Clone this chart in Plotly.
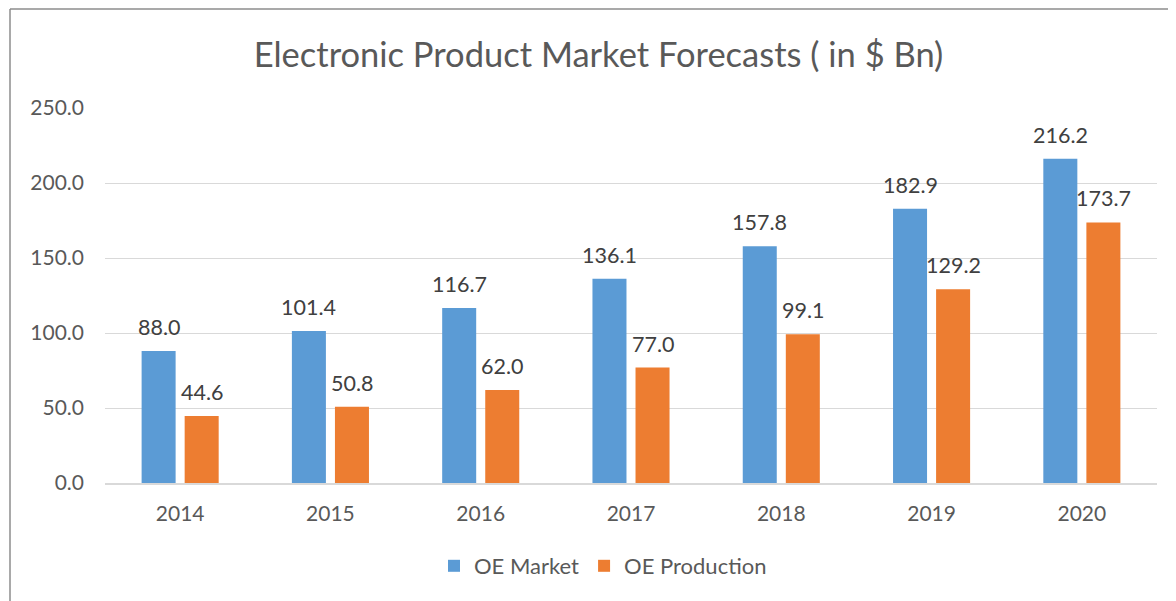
import plotly.graph_objects as go

years = ["2014", "2015", "2016", "2017", "2018", "2019", "2020"]
oe_market = [88.0, 101.4, 116.7, 136.1, 157.8, 182.9, 216.2]
oe_production = [44.6, 50.8, 62.0, 77.0, 99.1, 129.2, 173.7]
y_ticks = [0, 50, 100, 150, 200, 250]

OFF = 8  # page body margin
W, H = 1176 - OFF, 601 - OFF
ml, mr, mt, mb = 105 - OFF, 19, 108 - OFF, 118
pw = W - ml - mr
ph = H - mt - mb
FONT = "Lato"

fig = go.Figure()
fig.add_trace(go.Bar(name="OE Market", x=years, y=oe_market,
                     marker=dict(color="#5B9BD5", line=dict(width=0))))
fig.add_trace(go.Bar(name="OE Production", x=years, y=oe_production,
                     marker=dict(color="#ED7D31", line=dict(width=0))))

slot = pw / len(years) * (1 - 0.427) / 2
annotations = []
for vals, sh in ((oe_market, -slot / 2), (oe_production, slot / 2)):
    for i, v in enumerate(vals):
        annotations.append(dict(x=i, y=v, xref="x", yref="y", text=f"{v:.1f}",
                                showarrow=False, xshift=sh, yshift=24, yanchor="middle",
                                font=dict(family=FONT, size=21.5, color="#404040")))

def px2paper_x(p):
    return (p - OFF - ml) / pw

def px2paper_y(p):
    return (H - mb - (p - OFF)) / ph

shapes = [
    dict(type="line", xref="paper", yref="paper",
         x0=px2paper_x(10), x1=px2paper_x(10), y0=px2paper_y(9), y1=px2paper_y(640),
         line=dict(color="#8C8C8C", width=1.5)),
    dict(type="line", xref="paper", yref="paper",
         x0=px2paper_x(10), x1=px2paper_x(1200), y0=px2paper_y(9), y1=px2paper_y(9),
         line=dict(color="#8C8C8C", width=1.5)),
]

fig.update_layout(
    width=W, height=H,
    margin=dict(l=ml, r=mr, t=mt, b=mb),
    paper_bgcolor="white", plot_bgcolor="white",
    barmode="group", bargap=0.427, bargroupgap=0.21,
    title=dict(text="Electronic Product Market Forecasts ( in $ Bn)",
               x=px2paper_x(598.5), xref="paper", xanchor="center",
               y=1 - (55 - OFF) / H, yanchor="middle",
               font=dict(family=FONT, size=34.5, color="#595959")),
    xaxis=dict(type="category", showgrid=False, showline=True, linecolor="#D9D9D9",
               linewidth=1.5, ticks="", ticklabelstandoff=11,
               tickfont=dict(family=FONT, size=21, color="#595959")),
    yaxis=dict(range=[0, 250], tickvals=y_ticks, tickformat=".1f",
               showgrid=True, gridcolor="#D9D9D9", gridwidth=1.2,
               zeroline=False, showline=False, ticks="", ticklabelstandoff=20,
               tickfont=dict(family=FONT, size=21, color="#595959")),
    legend=dict(orientation="h", x=px2paper_x(603), xanchor="center", y=px2paper_y(566),
                yanchor="middle",
                font=dict(family=FONT, size=22, color="#595959"),
                itemwidth=30, traceorder="normal"),
    annotations=annotations,
    shapes=shapes,
    showlegend=True,
)

fig.write_html("out.html")
